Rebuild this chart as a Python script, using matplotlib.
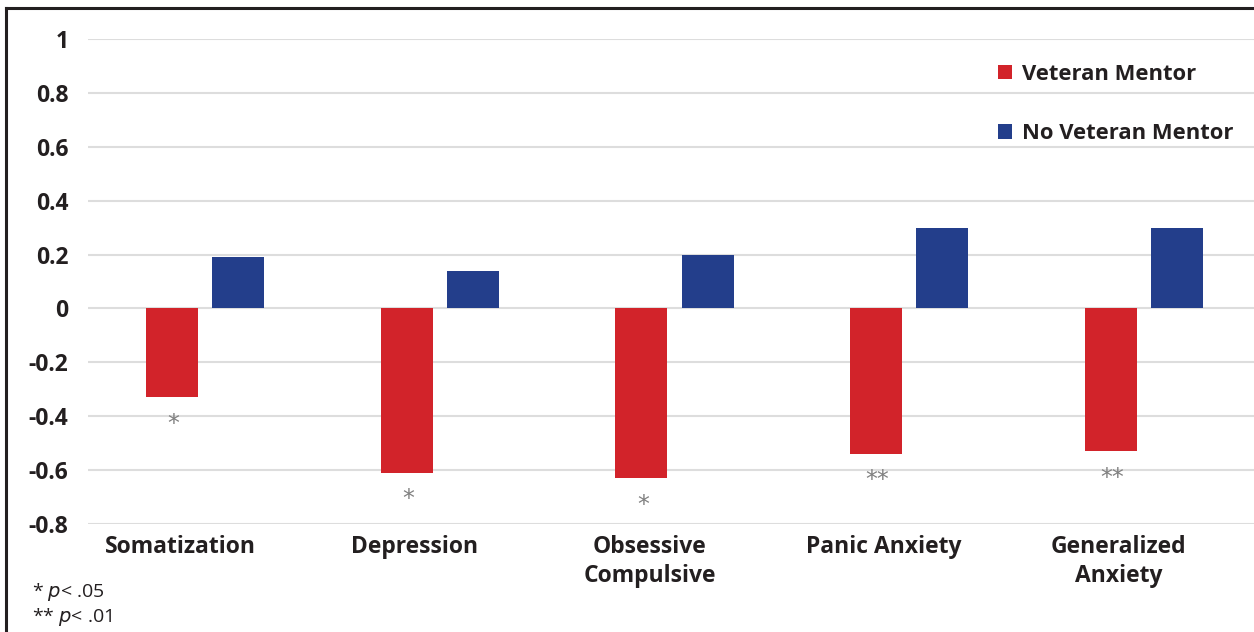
import matplotlib
matplotlib.use("Agg")
import matplotlib.pyplot as plt
from matplotlib.lines import Line2D
import numpy as np

# ── Data ──────────────────────────────────────────────────────────────────────
categories = ["Somatization", "Depression", "Obsessive\nCompulsive",
              "Panic Anxiety", "Generalized\nAnxiety"]
veteran_mentor = [-0.33, -0.61, -0.63, -0.54, -0.53]
no_veteran_mentor = [0.19, 0.14, 0.20, 0.30, 0.30]
significance = ["*", "*", "*", "**", "**"]
y_ticks = [1, 0.8, 0.6, 0.4, 0.2, 0, -0.2, -0.4, -0.6, -0.8]
y_tick_labels = ["1", "0.8", "0.6", "0.4", "0.2", "0", "-0.2", "-0.4", "-0.6", "-0.8"]

RED = "#D2232A"
BLUE = "#233E8B"
TEXT = "#231F20"
FONT = "Open Sans"

W, H = 1254, 632
fig = plt.figure(figsize=(W / 100, H / 100), dpi=100)
ax = fig.add_axes([88 / W, (H - 524) / H, (1261 - 88) / W, 485 / H])

x = np.arange(len(categories))
bw = 0.222
off = 0.141
ax.bar(x - off, veteran_mentor, bw, color=RED, label="Veteran Mentor", zorder=3)
ax.bar(x + off, no_veteran_mentor, bw, color=BLUE, label="No Veteran Mentor", zorder=3)

# significance stars under the red bars
for xi, v, s in zip(x, veteran_mentor, significance):
    ax.annotate(s, (xi - off, v), xytext=(1, -19), textcoords="offset points",
                ha="center", va="center", fontsize=17, color="#808080",
                family="DejaVu Sans")

ax.set_xlim(-0.5, len(categories) - 0.5)
ax.set_ylim(-0.8, 1.0)
ax.set_yticks(y_ticks)
ax.set_yticklabels(y_tick_labels, fontsize=16.5, fontweight="bold",
                   color=TEXT, family=FONT)
ax.tick_params(axis="y", length=0, pad=14)
ax.set_xticks([])
# category labels sit a little left of the group centre, as in the source
for xi, c in zip(x, categories):
    ax.annotate(c, (xi, -0.8), xytext=(-18, -8), textcoords="offset points",
                ha="center", va="top", fontsize=16.5, fontweight="bold",
                color=TEXT, family=FONT, linespacing=1.28, annotation_clip=False)

ax.grid(axis="y", color="#DDDDDD", lw=1.5, zorder=0)
for sp in ax.spines.values():
    sp.set_visible(False)

leg = ax.legend(loc="upper left", bbox_to_anchor=(978 / W, 1 - 44 / H),
                bbox_transform=fig.transFigure, frameon=False,
                prop={"family": FONT, "weight": "bold", "size": 15.8},
                handlelength=0.65, handleheight=0.65, handletextpad=0.45,
                labelspacing=1.75)
for t in leg.get_texts():
    t.set_color(TEXT)

# footnote
fig.text(32 / W, 1 - 592 / H, r"* $\it{p}$< .05", fontsize=14, color=TEXT,
         family=FONT, va="center")
fig.text(32 / W, 1 - 617 / H, r"** $\it{p}$< .01", fontsize=14, color=TEXT,
         family=FONT, va="center")

# frame (left and top edges visible)
fx, fy = 6 / W, 1 - 8 / H
fig.add_artist(Line2D([fx, fx], [0, fy], transform=fig.transFigure,
                      color=TEXT, lw=2.2))
fig.add_artist(Line2D([fx, 1], [fy, fy], transform=fig.transFigure,
                      color=TEXT, lw=2.2))

fig.savefig("out.png", dpi=100)
